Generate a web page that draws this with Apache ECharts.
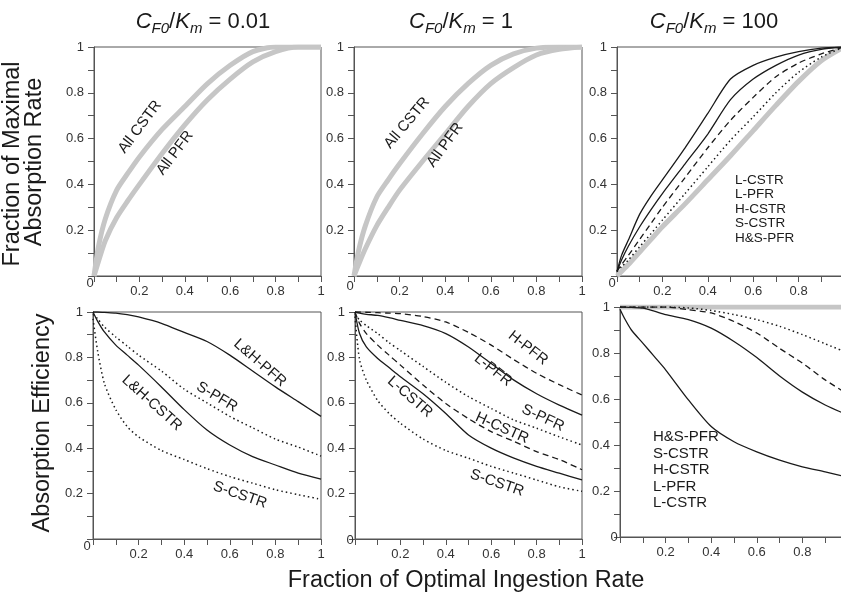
<!DOCTYPE html>
<html>
<head>
<meta charset="utf-8">
<script src="https://cdn.jsdelivr.net/npm/echarts@6/dist/echarts.min.js"></script>
<style>
  html, body { margin: 0; background: #fff; }
  #main { width: 841px; height: 602px; }
</style>
</head>
<body>
<div id="main"></div>
<script>
// shared x positions (fraction of optimal ingestion rate)
var xs = [0, 0.02, 0.05, 0.1, 0.15, 0.2, 0.3, 0.4, 0.5, 0.6, 0.7, 0.8, 0.9, 1];

// top row: fraction of maximal absorption rate
var rate001Cstr = [0, 0.13, 0.25, 0.375, 0.45, 0.52, 0.64, 0.74, 0.84, 0.92, 0.98, 1, 1, 1];
var rate001Pfr  = [0, 0.065, 0.155, 0.255, 0.33, 0.40, 0.535, 0.66, 0.77, 0.86, 0.935, 0.98, 1, 1];
var rate1Cstr   = [0, 0.11, 0.22, 0.345, 0.42, 0.49, 0.62, 0.74, 0.84, 0.92, 0.97, 0.995, 1, 1];
var rate1Pfr    = [0, 0.05, 0.12, 0.22, 0.30, 0.375, 0.50, 0.62, 0.74, 0.84, 0.91, 0.965, 0.99, 1];
var rate100LCstr = [0.02, 0.09, 0.157, 0.27, 0.35, 0.42, 0.56, 0.71, 0.86, 0.92, 0.956, 0.98, 0.995, 1];
var rate100LPfr  = [0.02, 0.07, 0.13, 0.215, 0.29, 0.36, 0.49, 0.62, 0.77, 0.86, 0.92, 0.965, 0.99, 1];
var rate100HCstr = [0.02, 0.05, 0.09, 0.16, 0.23, 0.30, 0.43, 0.56, 0.68, 0.78, 0.87, 0.93, 0.97, 1];
var rate100SCstr = [0.02, 0.04, 0.07, 0.128, 0.185, 0.244, 0.36, 0.477, 0.593, 0.695, 0.80, 0.89, 0.956, 1];
var rate100HSPfr = [0, 0.02, 0.05, 0.105, 0.16, 0.215, 0.315, 0.42, 0.525, 0.635, 0.745, 0.85, 0.94, 1];

// bottom row: absorption efficiency
var eff001LHPfr  = [1, 1, 0.998, 0.995, 0.988, 0.978, 0.95, 0.91, 0.87, 0.81, 0.74, 0.67, 0.605, 0.54];
var eff001SPfr   = [0.99, 0.97, 0.934, 0.89, 0.85, 0.81, 0.74, 0.66, 0.60, 0.54, 0.49, 0.44, 0.405, 0.365];
var eff001LHCstr = [1, 0.96, 0.912, 0.854, 0.81, 0.766, 0.67, 0.57, 0.48, 0.414, 0.363, 0.326, 0.29, 0.264];
var eff001SCstr  = [0.97, 0.83, 0.685, 0.57, 0.495, 0.45, 0.39, 0.35, 0.31, 0.275, 0.246, 0.217, 0.195, 0.175];

var eff1HPfr  = [1, 1, 0.999, 0.997, 0.995, 0.993, 0.98, 0.956, 0.91, 0.854, 0.79, 0.73, 0.68, 0.634];
var eff1LPfr  = [1, 0.995, 0.99, 0.985, 0.975, 0.963, 0.94, 0.905, 0.846, 0.773, 0.70, 0.64, 0.59, 0.546];
var eff1SPfr  = [0.99, 0.965, 0.94, 0.905, 0.865, 0.83, 0.76, 0.69, 0.627, 0.575, 0.524, 0.488, 0.45, 0.414];
var eff1HCstr = [1, 0.95, 0.905, 0.854, 0.81, 0.766, 0.678, 0.597, 0.53, 0.473, 0.43, 0.385, 0.35, 0.305];
var eff1LCstr = [1, 0.905, 0.846, 0.795, 0.755, 0.715, 0.64, 0.553, 0.458, 0.40, 0.356, 0.32, 0.29, 0.26];
var eff1SCstr = [0.98, 0.79, 0.70, 0.61, 0.553, 0.51, 0.44, 0.39, 0.356, 0.32, 0.29, 0.26, 0.23, 0.21];

var eff100HSPfr = [1, 1, 1, 1, 1, 1, 1, 1, 1, 1, 1, 1, 1, 1];
var eff100SCstr = [1, 1, 1, 1, 1, 1, 0.996, 0.985, 0.967, 0.945, 0.916, 0.88, 0.84, 0.80];
var eff100HCstr = [1, 1, 1, 1, 1, 1, 0.988, 0.974, 0.937, 0.887, 0.82, 0.756, 0.683, 0.62];
var eff100LPfr  = [1, 1, 0.998, 0.995, 0.982, 0.967, 0.945, 0.908, 0.85, 0.78, 0.70, 0.63, 0.574, 0.53];
var eff100LCstr = [0.99, 0.95, 0.90, 0.843, 0.785, 0.727, 0.596, 0.48, 0.414, 0.37, 0.334, 0.305, 0.283, 0.26];

var titles = ['0.01', '1', '100'];

var FONT = '"Liberation Sans", Arial, sans-serif';
var INK = '#1a1a1a';

// the right column runs past the edge of the picture
var panels = [
  { left: 94,  top: 47,  width: 227, height: 229 },
  { left: 354, top: 47,  width: 228, height: 229 },
  { left: 617, top: 47,  width: 227, height: 229, cut: true },
  { left: 93,  top: 312, width: 228, height: 227 },
  { left: 355, top: 312, width: 227, height: 227 },
  { left: 620, top: 307, width: 228, height: 230, cut: true }
];

function tickLabel(v) {
  var k = Math.round(v * 10);
  if (k === 0 || k % 2 === 1) return '';
  return k === 10 ? '1' : '0.' + k;
}
function tickLabelCut(v) {
  return Math.round(v * 10) === 10 ? '' : tickLabel(v);
}

var grids = [], xAxes = [], yAxes = [];
panels.forEach(function (p, i) {
  grids.push({ left: p.left, top: p.top, width: p.width, height: p.height,
    show: true, borderColor: '#555', borderWidth: 1,
    containLabel: false, outerBoundsMode: 'none' });
  var ax = {
    type: 'value', gridIndex: i, min: 0, max: 1, interval: 0.1,
    axisLine: { show: true, lineStyle: { color: '#555', width: 1 } },
    axisTick: { show: true, length: 6, lineStyle: { color: '#555' } },
    splitLine: { show: false },
    axisLabel: { formatter: tickLabel, color: '#333', fontSize: 13, fontFamily: FONT, margin: 9 }
  };
  var xa = echarts.util.clone(ax);
  if (p.cut) xa.axisLabel.formatter = tickLabelCut;
  xAxes.push(xa);
  var ya = echarts.util.clone(ax);
  ya.axisLabel.margin = 10;
  yAxes.push(ya);
});

function zip(ys) {
  return xs.map(function (x, i) { return [x, ys[i]]; });
}

function line(g, ys, kind) {
  var s = {
    type: 'line', xAxisIndex: g, yAxisIndex: g, data: zip(ys),
    showSymbol: false, smooth: 0.25, silent: true,
    lineStyle: { color: INK, width: 1.3, type: 'solid' }, z: 3
  };
  if (kind === 'gray') { s.lineStyle = { color: '#c6c6c6', width: 5 }; s.z = 2; }
  if (kind === 'dash') s.lineStyle.type = [6, 4];
  if (kind === 'dot') { s.lineStyle.type = [1.5, 3]; s.lineStyle.width = 1.5; }
  return s;
}

var series = [
  line(0, rate001Cstr, 'gray'), line(0, rate001Pfr, 'gray'),
  line(1, rate1Cstr, 'gray'), line(1, rate1Pfr, 'gray'),
  line(2, rate100HSPfr, 'gray'), line(2, rate100LCstr, 'solid'), line(2, rate100LPfr, 'solid'),
  line(2, rate100HCstr, 'dash'), line(2, rate100SCstr, 'dot'),
  line(3, eff001LHPfr, 'solid'), line(3, eff001SPfr, 'dot'),
  line(3, eff001LHCstr, 'solid'), line(3, eff001SCstr, 'dot'),
  line(4, eff1HPfr, 'dash'), line(4, eff1LPfr, 'solid'), line(4, eff1SPfr, 'dot'),
  line(4, eff1HCstr, 'dash'), line(4, eff1LCstr, 'solid'), line(4, eff1SCstr, 'dot'),
  line(5, eff100HSPfr, 'gray'), line(5, eff100SCstr, 'dot'), line(5, eff100HCstr, 'dash'),
  line(5, eff100LPfr, 'solid'), line(5, eff100LCstr, 'solid')
];

function txt(x, y, s, size, rotDeg, extra) {
  var st = { text: s, fill: INK, font: size + 'px ' + FONT, align: 'center', verticalAlign: 'middle' };
  if (extra) for (var k in extra) st[k] = extra[k];
  return { type: 'text', x: x, y: y, rotation: (rotDeg || 0) * Math.PI / 180, style: st, z: 10 };
}

var rich = {
  i: { fontStyle: 'italic', fontSize: 22, lineHeight: 28, fontFamily: FONT, fill: INK, verticalAlign: 'middle' },
  s: { fontStyle: 'italic', fontSize: 15, lineHeight: 15, fontFamily: FONT, fill: INK, verticalAlign: 'bottom' },
  n: { fontSize: 22, lineHeight: 28, fontFamily: FONT, fill: INK, verticalAlign: 'middle' }
};
var titleX = [203, 461, 714];
var graphics = titleX.map(function (x, i) {
  return { type: 'text', x: x, y: 22, z: 10, style: {
    text: '{i|C}{s|F0}{n|/}{i|K}{s|m}{n| = ' + titles[i] + '}',
    rich: rich, align: 'center', verticalAlign: 'middle' } };
});

graphics = graphics.concat([
  txt(13, 164, 'Fraction of Maximal', 23.5, 90),
  txt(35, 162, 'Absorption Rate', 23.5, 90),
  txt(43, 423, 'Absorption Efficiency', 23.5, 90),
  txt(466, 581, 'Fraction of Optimal Ingestion Rate', 23.5, 0),
  // corner zeros
  txt(90, 283, '0', 13, 0, { fill: '#333' }), txt(350, 286, '0', 13, 0, { fill: '#333' }),
  txt(612, 283, '0', 13, 0, { fill: '#333' }), txt(87, 546, '0', 13, 0, { fill: '#333' }),
  txt(350, 540, '0', 13, 0, { fill: '#333' }), txt(614, 537, '0', 13, 0, { fill: '#333' }),
  // curve labels
  txt(140, 127, 'All CSTR', 15, 53), txt(175, 153, 'All PFR', 15, 53),
  txt(407, 123, 'All CSTR', 15, 50), txt(445, 145, 'All PFR', 15, 54),
  txt(260, 363, 'L&H-PFR', 15, -41), txt(217, 397, 'S-PFR', 15, -31),
  txt(152, 403, 'L&H-CSTR', 15, -42), txt(240, 495, 'S-CSTR', 15, -19),
  txt(528, 348, 'H-PFR', 15, -38), txt(493, 370, 'L-PFR', 15, -38),
  txt(543, 418, 'S-PFR', 15, -25), txt(502, 428, 'H-CSTR', 15, -24),
  txt(410, 397, 'L-CSTR', 15, -41), txt(497, 483, 'S-CSTR', 15, -19),
  // key lists
  txt(735, 173, 'L-CSTR\nL-PFR\nH-CSTR\nS-CSTR\nH&S-PFR', 13.5, 0, { align: 'left', verticalAlign: 'top', lineHeight: 14.5 }),
  txt(653, 429, 'H&S-PFR\nS-CSTR\nH-CSTR\nL-PFR\nL-CSTR', 15, 0, { align: 'left', verticalAlign: 'top', lineHeight: 16.5 })
]);

var chart = echarts.init(document.getElementById('main'), null, { renderer: 'canvas' });
chart.setOption({
  backgroundColor: '#fff',
  animation: false,
  grid: grids,
  xAxis: xAxes,
  yAxis: yAxes,
  series: series,
  graphic: graphics
});
</script>
</body>
</html>
